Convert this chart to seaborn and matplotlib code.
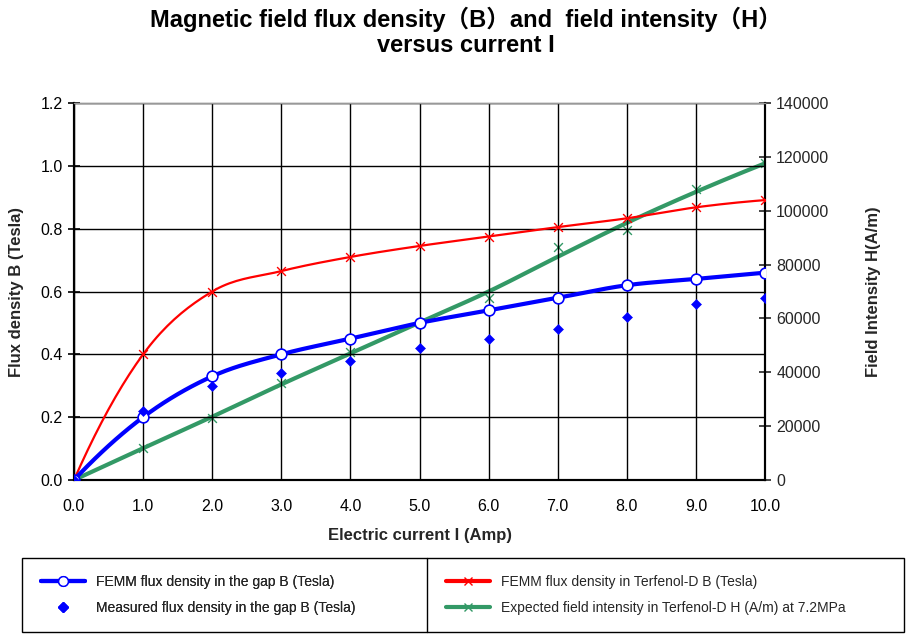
import numpy as np
import pandas as pd
import matplotlib
matplotlib.use("Agg")
import matplotlib.pyplot as plt
import seaborn as sns
from matplotlib.lines import Line2D
from matplotlib.patches import Rectangle

# values
current = [0, 1, 2, 3, 4, 5, 6, 7, 8, 9, 10]
femm_gap_b = [0.0, 0.20, 0.33, 0.40, 0.45, 0.50, 0.54, 0.58, 0.62, 0.64, 0.66]
measured_gap_b = [0.0, 0.22, 0.30, 0.34, 0.38, 0.42, 0.45, 0.48, 0.52, 0.56, 0.58]
femm_terfenol_b = [0.0, 0.40, 0.60, 0.665, 0.71, 0.745, 0.775, 0.805, 0.833, 0.868, 0.891]
h_markers = [0, 11800, 22900, 35900, 47600, 58300, 67500, 86600, 92800, 108000, 117600]
h_line = [0, 11800, 23500, 35500, 47000, 58500, 70000, 82900, 95500, 107000, 117600]

legend_labels = [
    "FEMM flux density in the gap B (Tesla)",
    "Measured flux density in the gap B (Tesla)",
    "FEMM flux density in Terfenol-D B (Tesla)",
    "Expected field intensity in Terfenol-D H (A/m) at 7.2MPa",
]

BLUE = "#0000FF"
RED = "#FF0000"
GREEN = "#339966"


def smooth(x, y, n=20):
    """Catmull-Rom curve through the points, like Excel's smoothed line."""
    x = np.asarray(x, float)
    y = np.asarray(y, float)
    # quadratic extrapolation for the phantom end points
    px = np.concatenate([[3 * x[0] - 3 * x[1] + x[2]], x, [3 * x[-1] - 3 * x[-2] + x[-3]]])
    py = np.concatenate([[3 * y[0] - 3 * y[1] + y[2]], y, [3 * y[-1] - 3 * y[-2] + y[-3]]])
    xs, ys = [], []
    t = np.linspace(0, 1, n, endpoint=False)
    for i in range(1, len(px) - 2):
        for p, out in ((px, xs), (py, ys)):
            p0, p1, p2, p3 = p[i - 1], p[i], p[i + 1], p[i + 2]
            out.extend(0.5 * ((2 * p1) + (-p0 + p2) * t
                              + (2 * p0 - 5 * p1 + 4 * p2 - p3) * t ** 2
                              + (-p0 + 3 * p1 - 3 * p2 + p3) * t ** 3))
    xs.append(x[-1])
    ys.append(y[-1])
    return pd.DataFrame({"x": xs, "y": ys})


sns.set_style("white")
plt.rcParams["font.family"] = ["Liberation Sans", "DejaVu Sans"]

fig = plt.figure(figsize=(9.09, 6.34), dpi=100)
ax = fig.add_axes([0.0814, 0.2429, 0.7602, 0.5946])
ax2 = ax.twinx()

# left axis: flux density curves
red_curve = smooth(current, femm_terfenol_b)
sns.lineplot(data=red_curve, x="x", y="y", ax=ax, color=RED, lw=1.6, sort=False, zorder=3)
sns.scatterplot(x=current, y=femm_terfenol_b, ax=ax, marker="x", color=RED, s=40,
                linewidth=1.0, zorder=4)

blue_curve = smooth(current, femm_gap_b)
sns.lineplot(data=blue_curve, x="x", y="y", ax=ax, color=BLUE, lw=3, sort=False, zorder=5)
sns.scatterplot(x=current, y=femm_gap_b, ax=ax, marker="o", s=60, facecolor="white",
                edgecolor=BLUE, linewidth=1.2, zorder=6)
sns.scatterplot(x=current, y=measured_gap_b, ax=ax, marker="D", s=26, color=BLUE,
                edgecolor=BLUE, zorder=6)

# right axis: field intensity
green_curve = smooth(current, h_line)
sns.lineplot(data=green_curve, x="x", y="y", ax=ax2, color=GREEN, lw=3, sort=False, zorder=2)
sns.scatterplot(x=current, y=h_markers, ax=ax2, marker="x", color=GREEN, s=40,
                linewidth=1.0, zorder=3)
ax2.set_zorder(ax.get_zorder() - 1)
ax.patch.set_visible(False)

ax.set_xlim(0, 10)
ax.set_ylim(0, 1.2)
ax2.set_ylim(0, 140000)
ax.set_xticks(np.arange(0, 11, 1))
ax.set_xticklabels([f"{v:.1f}" for v in range(11)])
ax.set_yticks(np.arange(0, 1.21, 0.2))
ax.set_yticklabels([f"{v:.1f}" for v in np.arange(0, 1.21, 0.2)])
ax2.set_yticks(np.arange(0, 140001, 20000))
ax2.set_yticklabels([str(v) for v in range(0, 140001, 20000)])

ax.grid(True, color="black", lw=1.0)
ax.tick_params(axis="both", direction="inout", length=8, width=1.2, labelsize=11.5,
               colors="black", pad=4)
ax.tick_params(axis="x", direction="out", length=5, pad=9)
ax2.tick_params(axis="y", direction="inout", length=8, width=1.2, labelsize=11.5, pad=4)
for a in (ax, ax2):
    for side in ("left", "bottom", "right"):
        a.spines[side].set_color("black")
        a.spines[side].set_linewidth(1.5)
    a.spines["top"].set_color("#999999")
    a.spines["top"].set_linewidth(1.0)

ax.set_xlabel("Electric current I (Amp)", fontsize=12, fontweight="bold", labelpad=10)
ax.set_ylabel("Flux density B (Tesla)", fontsize=12, fontweight="bold", labelpad=12)
ax2.set_ylabel("Field Intensity H(A/m)", fontsize=12, fontweight="bold", labelpad=26)
ax2.set_xlabel("")

fig.suptitle("Magnetic field flux density\uff08B\uff09and  field intensity\uff08H\uff09\nversus current I",
             x=0.513, y=0.99, fontsize=17, fontweight="bold", linespacing=1.15, color="black",
             family=["Liberation Sans", "Noto Sans CJK SC", "DejaVu Sans"])

# legend box split into two columns
fig.patches.append(Rectangle((22 / 909, 2 / 634), 882 / 909, 74 / 634, transform=fig.transFigure,
                             fill=False, edgecolor="black", lw=1.0))
fig.lines.append(Line2D([427 / 909, 427 / 909], [2 / 634, 76 / 634], transform=fig.transFigure,
                        color="black", lw=1.0))

handles = [
    Line2D([], [], color=BLUE, lw=3, marker="o", markersize=7, markerfacecolor="white",
           markeredgecolor=BLUE),
    Line2D([], [], color=BLUE, lw=0, marker="D", markersize=5),
    Line2D([], [], color=RED, lw=3, marker="x", markersize=6),
    Line2D([], [], color=GREEN, lw=3, marker="x", markersize=6),
]
leg1 = fig.legend(handles[:2], legend_labels[:2], loc="center left",
                  bbox_to_anchor=(28 / 909, 39 / 634), frameon=False, fontsize=10,
                  handlelength=3.2, labelspacing=0.9)
fig.add_artist(leg1)
fig.legend(handles[2:], legend_labels[2:], loc="center left",
           bbox_to_anchor=(433 / 909, 39 / 634), frameon=False, fontsize=10,
           handlelength=3.2, labelspacing=0.9)

fig.savefig("out.png", dpi=100)
plt.close(fig)
